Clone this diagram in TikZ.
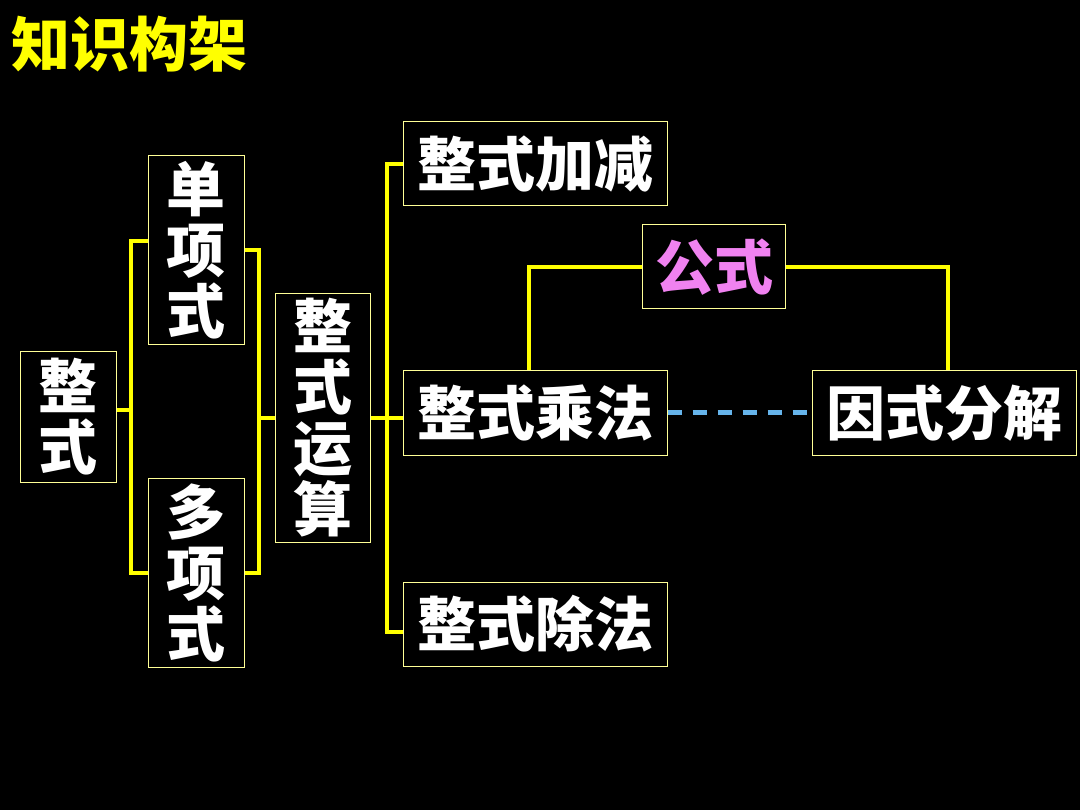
\documentclass[tikz,border=0pt]{standalone}
\usepackage{fontspec}
\newfontfamily\cjk{Noto Sans CJK SC}
\definecolor{boxline}{RGB}{255,255,150}
\definecolor{linkyellow}{RGB}{255,255,0}
\definecolor{dashblue}{RGB}{102,180,235}
\definecolor{formpink}{RGB}{240,130,240}
\begin{document}
\begin{tikzpicture}[x=1pt,y=-1pt,
	box/.style={draw=boxline,line width=1pt,fill=black,text=white,inner sep=0pt,align=center,
		font=\cjk\bfseries\fontsize{59}{61}\selectfont},
	link/.style={draw=linkyellow,line width=4pt},
	dashlink/.style={draw=dashblue,line width=5pt,dash pattern=on 14pt off 11pt}]
	\fill[black] (0,0) rectangle (1080,810);
	\useasboundingbox (0,0) rectangle (1080,810);
	\node[text=linkyellow,font=\cjk\bfseries\fontsize{59}{61}\selectfont] (title) at (130,44) {知识构架};
	
	\node[box,minimum width=96,minimum height=131] (zs) at (68,417) {整\\式};
	\node[box,minimum width=96,minimum height=189] (dxs) at (196,250) {单\\项\\式};
	\node[box,minimum width=96,minimum height=189] (dxs2) at (196,573) {多\\项\\式};
	\node[box,minimum width=95,minimum height=249] (ysuan) at (323,418) {整\\式\\运\\算};
	\node[box,minimum width=264,minimum height=84] (jj) at (535,164) {整式加减};
	\node[box,minimum width=143,minimum height=84,text=formpink] (gs) at (714,267) {公式};
	\node[box,minimum width=264,minimum height=85] (cf) at (535,413) {整式乘法};
	\node[box,minimum width=264,minimum height=85] (yf) at (944,413) {因式分解};
	\node[box,minimum width=264,minimum height=84] (cf2) at (535,624) {整式除法};
	
	% brackets
	\coordinate (b1) at (131,410);
	\coordinate (b2) at (259,418);
	\coordinate (b3) at (387,418);
	\draw[link] (zs.east |- b1) -- (b1) |- ([yshift=9pt]dxs.west);
	\draw[link] (b1) |- (dxs2.west);
	\draw[link] (dxs.east) -| (b2) |- (dxs2.east);
	\draw[link] (b2) -- (ysuan.west);
	\draw[link] (ysuan.east) -- (b3) |- (jj.west);
	\draw[link] (b3) -- (cf.west |- b3);
	\draw[link] (b3) |- ([yshift=-8pt]cf2.west);
	\draw[link] (gs.west) -| ([xshift=-6pt]cf.north);
	\draw[link] (gs.east) -| ([xshift=4pt]yf.north);
	\draw[dashlink] (cf.east) -- (yf.west);
\end{tikzpicture}
\end{document}
